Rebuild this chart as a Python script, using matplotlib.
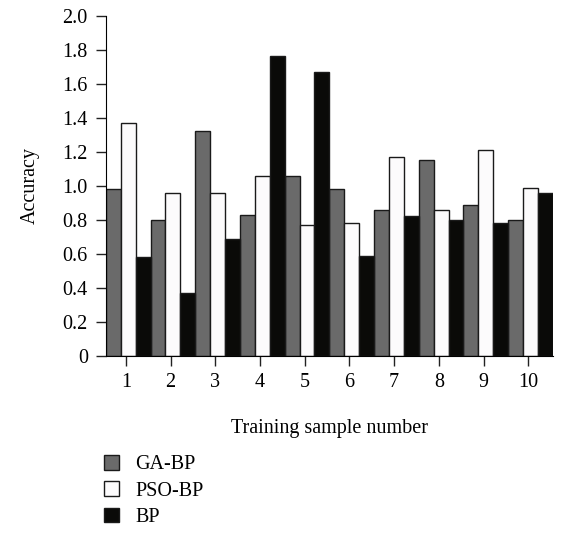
import numpy as np
import matplotlib
matplotlib.use('Agg')
import matplotlib.pyplot as plt

samples = ['1', '2', '3', '4', '5', '6', '7', '8', '9', '10']
ga_bp = [0.98, 0.80, 1.32, 0.83, 1.06, 0.98, 0.86, 1.15, 0.89, 0.80]
pso_bp = [1.37, 0.96, 0.96, 1.06, 0.77, 0.78, 1.17, 0.86, 1.21, 0.99]
bp = [0.58, 0.37, 0.69, 1.76, 1.67, 0.59, 0.82, 0.80, 0.78, 0.96]
yticks = [0, 0.2, 0.4, 0.6, 0.8, 1.0, 1.2, 1.4, 1.6, 1.8, 2.0]
ytick_labels = ['0', '0.2', '0.4', '0.6', '0.8', '1.0', '1.2', '1.4', '1.6', '1.8', '2.0']

plt.rcParams['font.family'] = ['Liberation Serif', 'DejaVu Serif']
fs = 14.5

fig = plt.figure(figsize=(5.63, 5.37), dpi=100)
ax = fig.add_axes([0.188, 0.337, 0.794, 0.634])

x = np.arange(len(samples))
w = 1 / 3
series = [(ga_bp, '#6a6a6a', 'GA-BP'), (pso_bp, '#fcfbfc', 'PSO-BP'), (bp, '#0a0a08', 'BP')]
for k, (vals, col, lab) in enumerate(series):
    ax.bar(x + (k - 1) * w, vals, width=w, color=col, edgecolor='#1a1a1a',
           linewidth=1.0, label=lab)

ax.set_xlim(-0.5, 9.5)
ax.set_ylim(0, 2.0)
ax.set_xticks(x - 0.05)
ax.set_xticklabels(samples, fontsize=fs)
ax.set_yticks(yticks)
ax.set_yticklabels(ytick_labels, fontsize=fs)
ax.tick_params(axis='both', direction='out', length=7, width=1, color='#222222')
ax.tick_params(axis='y', pad=6)
ax.tick_params(axis='x', pad=5)
ax.spines['top'].set_visible(False)
ax.spines['right'].set_visible(False)
ax.spines['left'].set_bounds(0, 2.0)
ax.set_xlabel('Training sample number', fontsize=fs, labelpad=20)
ax.set_ylabel('Accuracy', fontsize=fs, labelpad=16)

fig.legend(loc='upper left', bbox_to_anchor=(0.17, 0.168), frameon=False,
           fontsize=fs, handlelength=0.75, handleheight=0.75, handletextpad=0.8,
           labelspacing=0.35, borderaxespad=0)

fig.savefig('out.png', dpi=100)
